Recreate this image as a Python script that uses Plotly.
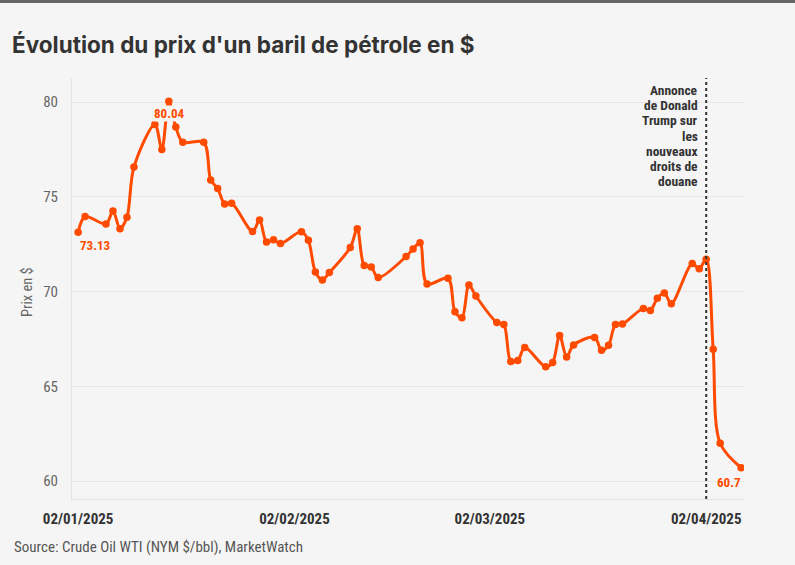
import plotly.graph_objects as go

dates = [
    "2025-01-02", "2025-01-03", "2025-01-06", "2025-01-07", "2025-01-08", "2025-01-09", "2025-01-10",
    "2025-01-13", "2025-01-14", "2025-01-15", "2025-01-16", "2025-01-17",
    "2025-01-20", "2025-01-21", "2025-01-22", "2025-01-23", "2025-01-24",
    "2025-01-27", "2025-01-28", "2025-01-29", "2025-01-30", "2025-01-31",
    "2025-02-03", "2025-02-04", "2025-02-05", "2025-02-06", "2025-02-07",
    "2025-02-10", "2025-02-11", "2025-02-12", "2025-02-13", "2025-02-14",
    "2025-02-18", "2025-02-19", "2025-02-20", "2025-02-21",
    "2025-02-24", "2025-02-25", "2025-02-26", "2025-02-27", "2025-02-28",
    "2025-03-03", "2025-03-04", "2025-03-05", "2025-03-06", "2025-03-07",
    "2025-03-10", "2025-03-11", "2025-03-12", "2025-03-13", "2025-03-14",
    "2025-03-17", "2025-03-18", "2025-03-19", "2025-03-20", "2025-03-21",
    "2025-03-24", "2025-03-25", "2025-03-26", "2025-03-27", "2025-03-28",
    "2025-03-31", "2025-04-01", "2025-04-02", "2025-04-03", "2025-04-04",
    "2025-04-07",
]
prices = [
    73.13, 73.96, 73.56, 74.25, 73.32, 73.92, 76.57,
    78.82, 77.50, 80.04, 78.68, 77.88,
    77.88, 75.89, 75.44, 74.62, 74.66,
    73.17, 73.77, 72.62, 72.73, 72.53,
    73.16, 72.70, 71.03, 70.61, 71.00,
    72.32, 73.32, 71.37, 71.29, 70.74,
    71.85, 72.25, 72.57, 70.40,
    70.70, 68.93, 68.62, 70.35, 69.76,
    68.37, 68.26, 66.31, 66.36, 67.04,
    66.03, 66.25, 67.68, 66.55, 67.18,
    67.58, 66.90, 67.16, 68.26, 68.28,
    69.11, 69.00, 69.65, 69.92, 69.36,
    71.48, 71.20, 71.71, 66.95, 61.99,
    60.70,
]

x_tick_vals = ["2025-01-02", "2025-02-02", "2025-03-02", "2025-04-02"]
x_tick_text = ["02/01/2025", "02/02/2025", "02/03/2025", "02/04/2025"]
y_tick_vals = [60, 65, 70, 75, 80]

event_date = "2025-04-02"
event_lines = ["Annonce", "de Donald", "Trump sur", "les", "nouveaux", "droits de", "douane"]

title_text = "Évolution du prix d'un baril de pétrole en $"
source_text = "Source: Crude Oil WTI (NYM $/bbl), MarketWatch"
y_title = "Prix en $"

ORANGE = "#ff4b00"
BG = "#f5f5f5"
FONT = "Roboto Condensed, Roboto, sans-serif"
TITLE_FONT = "Inter, Roboto, sans-serif"
W, H = 795, 565
L, R, T, B = 72, 51, 78, 66
PW, PH = W - L - R, H - T - B


def py(ypix):
    """pixel row -> paper y"""
    return (T + PH - ypix) / PH


fig = go.Figure()
fig.add_trace(go.Scatter(
    x=dates, y=prices, mode="lines+markers",
    line=dict(color=ORANGE, width=3, shape="spline", smoothing=0.9),
    marker=dict(color=ORANGE, size=7.5),
    hoverinfo="skip",
))

# data labels
i_max = prices.index(max(prices))
fig.add_annotation(x=dates[0], y=prices[0], text=f"<b>{prices[0]}</b>", showarrow=False,
                   xanchor="left", yanchor="top", xshift=0, yshift=-4,
                   font=dict(family=FONT, size=13, color=ORANGE))
fig.add_annotation(x=dates[i_max], y=prices[i_max], text=f"<b>{prices[i_max]}</b>", showarrow=False,
                   xanchor="center", yanchor="top", yshift=-4, bgcolor=BG, borderpad=0,
                   font=dict(family=FONT, size=13, color=ORANGE))
fig.add_annotation(x=dates[-1], y=prices[-1], text=f"<b>{prices[-1]:g}</b>", showarrow=False,
                   xanchor="right", yanchor="top", xshift=2, yshift=-5,
                   font=dict(family=FONT, size=13, color=ORANGE))

# event line + text
fig.add_shape(type="line", x0=event_date, x1=event_date, xref="x", yref="paper", y0=0, y1=1,
              line=dict(color="#333333", width=2, dash="dot"))
for k, line in enumerate(event_lines):
    fig.add_annotation(x=event_date, y=py(90 + 15.2 * k), xref="x", yref="paper", text=f"<b>{line}</b>",
                       showarrow=False, xanchor="right", yanchor="middle", align="right", xshift=-6,
                       font=dict(family=FONT, size=13.5, color="#333333"))

# y-axis title
fig.add_annotation(x=0, y=py(292), xref="paper", yref="paper", text=y_title, showarrow=False,
                   textangle=-90, xanchor="center", yanchor="middle", xshift=-45,
                   font=dict(family=FONT, size=14.5, color="#666666"))

# source
fig.add_annotation(x=(12 - L) / PW, y=py(547), xref="paper", yref="paper",
                   text=source_text, showarrow=False, xanchor="left", yanchor="middle",
                   font=dict(family=FONT, size=15, color="#555555"))

# top bar
fig.add_shape(type="rect", xref="paper", yref="paper", x0=-L / PW, x1=(W - L) / PW,
              y0=py(3), y1=py(-5), fillcolor="#666666", line=dict(width=0))

fig.update_layout(
    width=W, height=H,
    margin=dict(l=L, r=R, t=T, b=B),
    paper_bgcolor=BG, plot_bgcolor=BG,
    showlegend=False,
    title=dict(text=f"<b>{title_text}</b>", x=12 / W, xanchor="left", xref="container",
               y=1 - 45 / H, yanchor="middle", yref="container",
               font=dict(family=TITLE_FONT, size=22.5, color="#333333")),
    font=dict(family=FONT),
)
fig.update_xaxes(
    type="date", range=["2025-01-01 03:00", "2025-04-07 10:00"],
    tickvals=x_tick_vals, ticktext=[f"<b>{t}</b>" for t in x_tick_text],
    tickfont=dict(family=FONT, size=15, color="#333333"),
    showgrid=False, zeroline=False, showline=True, linecolor="#e3e3e3", linewidth=1,
    ticks="", ticklabelstandoff=6,
)
fig.update_yaxes(
    range=[59.05, 81.27], tickvals=y_tick_vals,
    tickfont=dict(family=FONT, size=15, color="#666666"),
    showgrid=True, gridcolor="#e6e6e6", gridwidth=1, zeroline=False,
    showline=True, linecolor="#e3e3e3", linewidth=1, ticks="", ticklabelstandoff=10,
)

fig.write_html("out.html", config={"displayModeBar": False},
               post_script="document.body.style.margin='0';")
